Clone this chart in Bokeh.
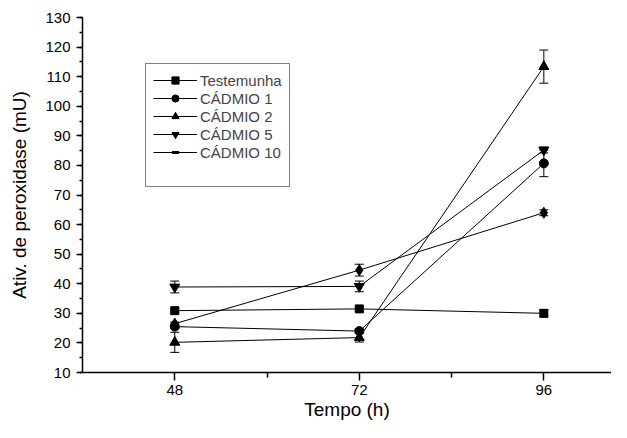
from bokeh.plotting import figure
from bokeh.models import (ColumnDataSource, Whisker, TeeHead, Legend, LegendItem,
                          FixedTicker, Range1d)
from bokeh.embed import file_html
from bokeh.resources import INLINE

hours = [48, 72, 96]
series_names = ["Testemunha", "CÁDMIO 1", "CÁDMIO 2", "CÁDMIO 5", "CÁDMIO 10"]
testemunha = [30.9, 31.5, 30.0]
testemunha_err = [0.8, 0.8, 1.2]
cadmio1 = [25.5, 24.0, 80.7]
cadmio1_err = [0.6, 0.8, 4.5]
cadmio2 = [20.2, 21.8, 113.4]
cadmio2_err = [3.4, 1.5, 5.6]
cadmio5 = [38.9, 39.1, 85.2]
cadmio5_err = [2.0, 1.8, 1.0]
cadmio10 = [26.5, 44.6, 64.0]
cadmio10_err = [0.5, 2.0, 1.0]
x_ticks = [48, 72, 96]
x_minor = [60, 84]
y_ticks = list(range(10, 131, 10))
y_minor = list(range(10, 131, 5))

values = [testemunha, cadmio1, cadmio2, cadmio5, cadmio10]
errors = [testemunha_err, cadmio1_err, cadmio2_err, cadmio5_err, cadmio10_err]
markers = ["square", "circle", "triangle", "inverted_triangle", "diamond"]
sizes = [8, 9, 10, 10, 11]

FONT = "Liberation Sans"

p = figure(width=611, height=422, output_backend="svg", toolbar_location=None,
           x_range=Range1d(36, 104.8), y_range=Range1d(10, 130),
           min_border_left=82, min_border_right=0, min_border_top=17,
           min_border_bottom=45)
p.outline_line_color = None
p.grid.visible = False
p.background_fill_color = "white"
p.border_fill_color = "white"

items = []
for name, vals, errs, mk, sz in zip(series_names, values, errors, markers, sizes):
    src = ColumnDataSource(dict(x=hours, y=vals,
                                lo=[v - e for v, e in zip(vals, errs)],
                                hi=[v + e for v, e in zip(vals, errs)]))
    lr = p.line("x", "y", source=src, line_color="black", line_width=1)
    sr = p.scatter("x", "y", source=src, marker=mk, size=sz,
                   fill_color="black", line_color="black")
    w = Whisker(source=src, base="x", upper="hi", lower="lo",
                line_color="black", line_width=1,
                upper_head=TeeHead(size=9, line_color="black", line_width=1),
                lower_head=TeeHead(size=9, line_color="black", line_width=1))
    p.add_layout(w)
    if name == "CÁDMIO 10":
        dsrc = ColumnDataSource(dict(x=[float("nan")], y=[float("nan")]))
        dr = p.scatter("x", "y", source=dsrc, marker="dash", size=12,
                       line_color="black", line_width=3)
        items.append(LegendItem(label=name, renderers=[lr, dr]))
    else:
        items.append(LegendItem(label=name, renderers=[lr, sr]))

# blank spacer row at the bottom of the legend box
esrc = ColumnDataSource(dict(x=[float("nan")], y=[float("nan")]))
er = p.scatter("x", "y", source=esrc, marker="circle", size=1,
               fill_alpha=0, line_alpha=0)
items.append(LegendItem(label=" ", renderers=[er]))

legend = Legend(items=items, location=(63, 185), glyph_width=44, glyph_height=18,
                label_height=18, spacing=0, padding=7, margin=0,
                label_standoff=3,
                label_text_font=FONT, label_text_font_size="15px",
                border_line_color="black", border_line_width=1,
                background_fill_alpha=1)
p.add_layout(legend, "center")

p.xaxis.ticker = FixedTicker(ticks=x_ticks, minor_ticks=x_minor)
p.yaxis.ticker = FixedTicker(ticks=y_ticks, minor_ticks=y_minor)
for ax in (p.xaxis, p.yaxis):
    ax.axis_line_width = 1.5
    ax.major_tick_line_width = 1.5
    ax.minor_tick_line_width = 1.5
    ax.major_tick_in = 0
    ax.minor_tick_in = 0
    ax.major_label_text_font = FONT
    ax.major_label_text_font_size = "15px"
    ax.axis_label_text_font = FONT
    ax.axis_label_text_font_size = "19px"
    ax.axis_label_text_font_style = "normal"
    ax.major_label_text_color = "black"
    ax.axis_label_text_color = "black"
p.xaxis.major_tick_out = 8
p.xaxis.minor_tick_out = 5
p.yaxis.major_tick_out = 6
p.yaxis.minor_tick_out = 3
p.xaxis.axis_label = "Tempo (h)"
p.yaxis.axis_label = "Ativ. de peroxidase (mU)"
p.xaxis.major_label_standoff = 4
p.yaxis.major_label_standoff = 6
p.xaxis.axis_label_standoff = 1
p.yaxis.axis_label_standoff = 12

open("out.html", "w").write(file_html(p, INLINE))
